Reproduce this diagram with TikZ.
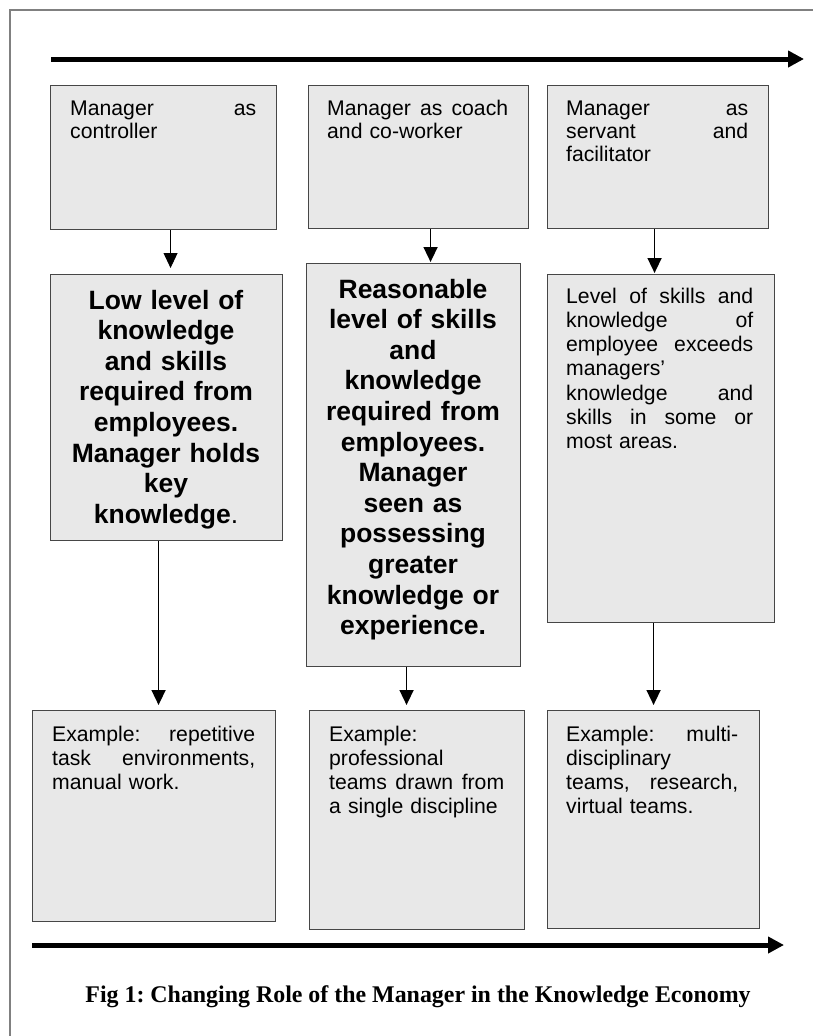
\documentclass[tikz,border=0pt]{standalone}
\usepackage{fontspec}
\setmainfont{Liberation Sans}
\newfontfamily\capfont{Liberation Serif}
\usetikzlibrary{arrows.meta}
\frenchspacing

\definecolor{boxgray}{RGB}{232,232,232}
\definecolor{edgegray}{RGB}{70,70,70}
\definecolor{framegray}{RGB}{128,128,128}

\newcommand{\regtext}{\fontsize{21.2pt}{23.4pt}\selectfont}
\newcommand{\regtextb}{\fontsize{21.2pt}{24.3pt}\selectfont}
\newcommand{\boldtext}{\bfseries\fontsize{26.5pt}{30.6pt}\selectfont}

\tikzset{
  box/.style={draw=edgegray, fill=boxgray, line width=1.1pt, inner sep=0pt, anchor=north west},
  txt/.style={anchor=base west, inner sep=0pt, align=left, font=\regtext},
  txtb/.style={anchor=base west, inner sep=0pt, align=left, font=\regtextb},
  boldtxt/.style={anchor=base, inner sep=0pt, align=center, font=\boldtext},
  timeline/.style={line width=5pt, -{Triangle[width=16pt,length=16pt]}},
  arr/.style={line width=1.6pt, -{Triangle[width=14pt,length=15pt]}},
  thinarr/.style={line width=0.9pt, -{Triangle[width=14pt,length=15pt]}}
}

\begin{document}
\begin{tikzpicture}[x=1pt,y=-1pt]
\useasboundingbox (0,0) rectangle (813,1036);

% page frame (top and left edges)
\draw[framegray, line width=1.2pt] (10,1036) -- (10,10) -- (813,10);

% time lines
\coordinate (topL) at (51,59);
\coordinate (topR) at (804,59);
\coordinate (botL) at (32,945);
\coordinate (botR) at (784,945);
\draw[timeline] (topL) -- (topR);
\draw[timeline] (botL) -- (botR);

% role boxes
\node[box, minimum width=226pt, minimum height=144pt] (t1) at (50,85) {};
\node[box, minimum width=220pt, minimum height=143pt] (t2) at (308,85) {};
\node[box, minimum width=221pt, minimum height=143pt] (t3) at (547,85) {};

% knowledge boxes
\node[box, minimum width=232pt, minimum height=266pt] (m1) at (50,274) {};
\node[box, minimum width=214pt, minimum height=403pt] (m2) at (306,263) {};
\node[box, minimum width=227pt, minimum height=348pt] (m3) at (547,274) {};

% example boxes
\node[box, minimum width=243pt, minimum height=211pt] (b1) at (32,710) {};
\node[box, minimum width=215pt, minimum height=219pt] (b2) at (309,710) {};
\node[box, minimum width=212pt, minimum height=218pt] (b3) at (547,710) {};

% role texts
\node[txt, text width=186pt] (t1text) at (70,115) {Manager\hfill as\\controller};
\node[txt, text width=181pt] (t2text) at (327,115) {Manager\hfill as\hfill coach\\and co-worker};
\node[txt, text width=182pt] (t3text) at (566,115) {Manager\hfill as\\servant\hfill and\\facilitator};

% knowledge texts
\node[boldtxt, text width=222pt] (m1text) at (166,309)
  {Low level of\\knowledge\\and skills\\required from\\employees.\\Manager holds\\key\\knowledge{\mdseries.}};
\node[boldtxt, text width=206pt] (m2text) at (413,298)
  {Reasonable\\level of skills\\and\\knowledge\\required from\\employees.\\Manager\\seen as\\possessing\\greater\\knowledge or\\experience.};
\node[txtb, text width=187pt] (m3text) at (566,303)
  {Level\hfill of\hfill skills\hfill and\\knowledge\hfill of\\employee\hfill exceeds\\managers’\\knowledge\hfill and\\skills\hfill in\hfill some\hfill or\\most areas.};

% example texts
\node[txtb, text width=203pt] (b1text) at (52,741)
  {Example:\hfill repetitive\\task\hfill environments,\\manual work.};
\node[txtb, text width=175pt] (b2text) at (329,741)
  {Example:\\professional\\teams\hfill drawn\hfill from\\a single discipline};
\node[txtb, text width=172pt] (b3text) at (566,741)
  {Example:\hfill multi-\\disciplinary\\teams,\hfill research,\\virtual teams.};

% connectors
\draw[thinarr, shorten >=6pt] ([xshift=7pt]t1.south) -- ([xshift=7pt]t1.south |- m1.north);
\draw[arr, shorten >=1pt] ([xshift=12pt]t2.south) -- ([xshift=12pt]t2.south |- m2.north);
\draw[arr, shorten >=1pt] ([xshift=-3.5pt]t3.south) -- ([xshift=-3.5pt]t3.south |- m3.north);
\draw[arr, shorten >=5pt] ([xshift=-8pt]m1.south) -- ([xshift=-8pt]m1.south |- b1.north);
\draw[arr, shorten >=5pt] ([xshift=-7pt]m2.south) -- ([xshift=-7pt]m2.south |- b2.north);
\draw[arr, shorten >=5pt] ([xshift=-7.5pt]m3.south) -- ([xshift=-7.5pt]m3.south |- b3.north);

% caption
\node[anchor=base, inner sep=0pt, font={\capfont\bfseries\fontsize{23.9pt}{26pt}\selectfont}] (caption) at (418,1002)
  {Fig 1: Changing Role of the Manager in the Knowledge Economy};
\end{tikzpicture}
\end{document}
